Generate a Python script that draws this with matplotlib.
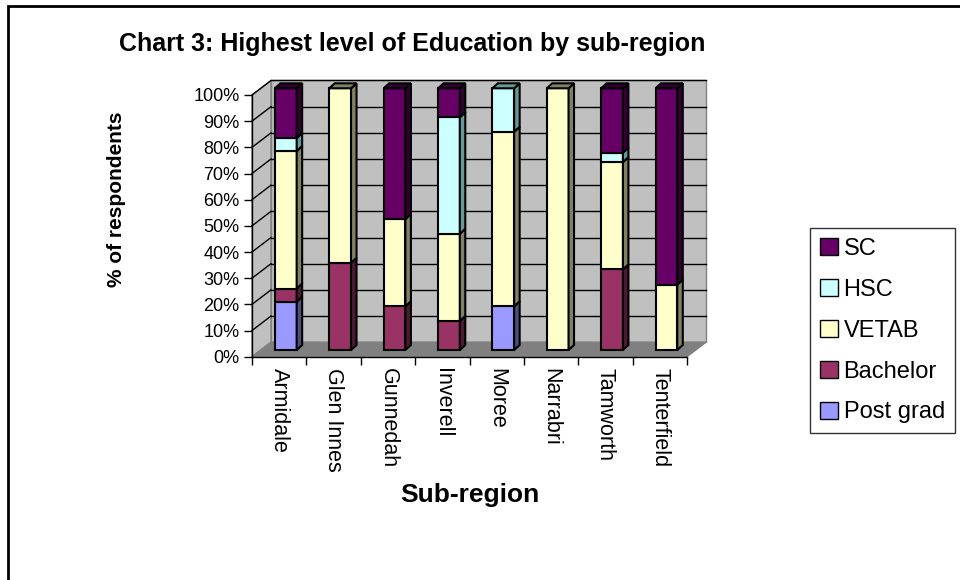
import numpy as np
import matplotlib.pyplot as plt
from matplotlib.patches import Polygon, Patch, Rectangle
from matplotlib.transforms import IdentityTransform

plt.rcParams['font.family'] = ['Liberation Sans', 'DejaVu Sans']

regions = ['Armidale', 'Glen Innes', 'Gunnedah', 'Inverell', 'Moree',
           'Narrabri', 'Tamworth', 'Tenterfield']
# % of respondents, stacked bottom -> top
post_grad = [18.5, 0, 0, 0, 16.7, 0, 0, 0]
bachelor = [5.0, 33.3, 16.7, 11.1, 0, 0, 30.8, 0]
vetab = [52.5, 66.7, 33.3, 33.3, 66.7, 100, 41.0, 25.0]
hsc = [5.0, 0, 0, 44.5, 16.6, 0, 3.6, 0]
sc = [19.0, 0, 50.0, 11.1, 0, 0, 24.6, 75.0]

series = [('Post grad', post_grad, '#9999FF', '#4D4D80'),
          ('Bachelor', bachelor, '#993366', '#4D1A33'),
          ('VETAB', vetab, '#FFFFCC', '#808066'),
          ('HSC', hsc, '#CCFFFF', '#669999'),
          ('SC', sc, '#660066', '#330033')]

fig = plt.figure(figsize=(9.6, 5.8), dpi=100)
W, H = 960, 580

# outer chart frame
fig.add_artist(Rectangle((8 / W, -0.1), 1.2, 1 - 6 / H + 0.1, transform=fig.transFigure,
                         fill=False, lw=2, ec='black'))

ax = fig.add_axes([252 / W, 1 - 356.7 / H, 435 / W, 261.7 / H])
ax.set_xlim(0, len(regions))
ax.set_ylim(0, 100)
ax.patch.set_visible(False)
for s in ['top', 'right']:
    ax.spines[s].set_visible(False)
ax.spines['left'].set_linewidth(1)
ax.spines['bottom'].set_linewidth(1)

ax.set_yticks(np.arange(0, 101, 10))
ax.set_yticklabels([f'{v}%' for v in range(0, 101, 10)], fontsize=13)
ax.set_xticks(np.arange(0, len(regions) + 1))
ax.set_xticklabels([])
ax.set_xticks(np.arange(len(regions)) + 0.5, minor=True)
ax.set_xticklabels(regions, minor=True, rotation=270, fontsize=15.5, va='top', ha='center')
ax.tick_params(axis='x', which='minor', length=0, pad=8)
ax.tick_params(axis='both', which='major', length=6, width=1, direction='out', color='black')
ax.tick_params(axis='y', pad=3)

ax.set_ylabel('% of respondents', fontsize=15, fontweight='bold')
ax.yaxis.set_label_coords(-0.29, 0.6)
ax.set_xlabel('Sub-region', fontsize=19, fontweight='bold', labelpad=8)

fig.canvas.draw()
ident = IdentityTransform()
back = np.array([19.0, 14.5])     # depth of back wall in px
front = np.array([6.6, 6.7])      # front face of bars
bdepth = np.array([5.5, 5.0])     # bar depth


def P(x, y, off=(0, 0)):
    return ax.transData.transform((x, y)) + np.asarray(off)


def poly(pts, fc, ec='black', lw=1.0, z=1):
    ax.add_patch(Polygon(pts, closed=True, fc=fc, ec=ec, lw=lw, transform=ident,
                         clip_on=False, zorder=z))


n = len(regions)
# walls and floor
poly([P(0, 0, back), P(n, 0, back), P(n, 100, back), P(0, 100, back)], '#C0C0C0', ec='#808080', z=0.5)
poly([P(0, 0), P(0, 100), P(0, 100, back), P(0, 0, back)], '#C0C0C0', ec='#808080', z=0.5)
poly([P(0, 0), P(n, 0), P(n, 0, back), P(0, 0, back)], '#808080', ec='#808080', z=0.6)
for v in range(10, 101, 10):
    a, b = P(0, v, back), P(n, v, back)
    ax.plot([a[0], b[0]], [a[1], b[1]], color='black', lw=1, transform=ident, clip_on=False, zorder=0.7)
    a, b = P(0, v), P(0, v, back)
    ax.plot([a[0], b[0]], [a[1], b[1]], color='black', lw=1, transform=ident, clip_on=False, zorder=0.7)

# 3-D stacked bars
bw = 0.4
for i in range(n):
    x0, x1 = i + 0.5 - bw / 2, i + 0.5 + bw / 2
    bottom = 0.0
    segs = [(vals[i], fc, sc_) for _, vals, fc, sc_ in series if vals[i] > 0]
    for k, (v, fc, side) in enumerate(segs):
        top = bottom + v
        poly([P(x0, bottom, front), P(x1, bottom, front), P(x1, top, front), P(x0, top, front)], fc, lw=1.5, z=2)
        poly([P(x1, bottom, front), P(x1, bottom, front + bdepth), P(x1, top, front + bdepth),
              P(x1, top, front)], side, lw=1.5, z=2)
        if k == len(segs) - 1:
            poly([P(x0, top, front), P(x1, top, front), P(x1, top, front + bdepth),
                  P(x0, top, front + bdepth)], side, lw=1.5, z=2)
        bottom = top

fig.text(412 / W, 1 - 44 / H, 'Chart 3: Highest level of Education by sub-region',
         fontsize=18, fontweight='bold', ha='center', va='center')

handles = [Patch(fc=fc, ec='black', lw=1, label=name) for name, _, fc, _ in series[::-1]]
leg = fig.legend(handles=handles, loc='upper left', bbox_to_anchor=(810 / W, 1 - 228 / H),
                 fontsize=17, frameon=True, fancybox=False, edgecolor='black',
                 handlelength=0.75, handleheight=0.75, handletextpad=0.25,
                 labelspacing=0.8, borderpad=0.42, borderaxespad=0)
leg.get_frame().set_linewidth(1)

fig.savefig('out.png', dpi=100)
